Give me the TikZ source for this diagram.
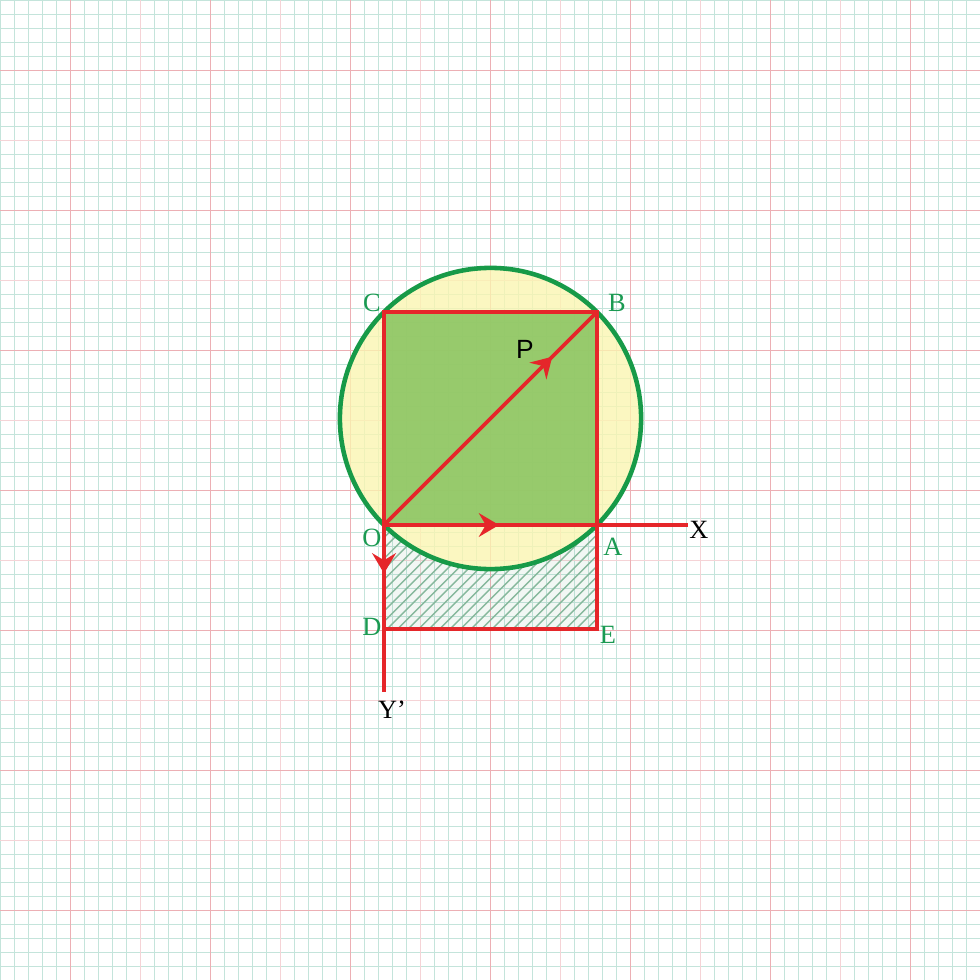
\documentclass[tikz,border=0pt]{standalone}
\usepackage{fontspec}
\setmainfont{Liberation Serif}
\newfontfamily\psans{Liberation Sans}
\usetikzlibrary{arrows.meta,decorations.markings}
\definecolor{gminor}{HTML}{C4E4DB}
\definecolor{gmid}{HTML}{F5D3D6}
\definecolor{gmajor}{HTML}{ECAFB4}
\definecolor{myred}{HTML}{E5262A}
\definecolor{mygreen}{HTML}{179A48}
\definecolor{lbl}{HTML}{1A9A52}
\definecolor{yel}{HTML}{FBF5B0}
\definecolor{sq}{HTML}{86C35E}
\definecolor{hatchc}{HTML}{86B89C}
\begin{document}
\begin{tikzpicture}[x=0.02cm,y=-0.02cm,
  minorline/.style={gminor, line width=0.4pt},
  midline/.style={gmid, line width=0.45pt},
  majorline/.style={gmajor, line width=0.55pt},
  redline/.style={myred, line width=2.1pt},
  arrowmark/.style={postaction={decorate,decoration={markings,
      mark=at position #1 with {\arrow{Stealth[length=11.5pt,width=13.5pt,inset=4pt,color=myred]}}}}},
  lab/.style={text=lbl, font=\fontsize{15}{15}\selectfont, inner sep=0pt},
  blab/.style={text=black, font=\fontsize{15}{15}\selectfont, inner sep=0pt}]
\useasboundingbox (0,0) rectangle (980,980);
\fill[white] (0,0) rectangle (980,980);
% graph paper
\foreach \i in {0,14,...,980} {
  \draw[minorline] (\i,0) -- (\i,980);
  \draw[minorline] (0,\i) -- (980,\i);
}
\foreach \i in {140,280,...,840} {
  \draw[midline] (\i,0) -- (\i,980);
  \draw[midline] (0,\i) -- (980,\i);
}
\foreach \i in {70,210,...,910} {
  \draw[majorline] (\i,0) -- (\i,980);
  \draw[majorline] (0,\i) -- (980,\i);
}
% points
\coordinate (O) at (384,525);
\coordinate (A) at (597,525);
\coordinate (B) at (597,312);
\coordinate (C) at (384,312);
\coordinate (D) at (384,629);
\coordinate (E) at (597,629);
\coordinate (Xend) at (688,525);
\coordinate (Yend) at (384,692);
\coordinate (M) at (490.5,418.5);
% fills
\fill[yel, fill opacity=0.78] (M) circle[radius=150.6];
\fill[sq, fill opacity=0.85] (O) rectangle (B);
% hatched region
\begin{scope}
  \clip (O) rectangle (E);
  \begin{scope}[even odd rule]
    \clip (O) rectangle (E) (M) circle[radius=150.6];
    \fill[hatchc, opacity=0.1] (O) rectangle (E);
    \foreach \k in {250,260.5,...,615} {
      \draw[hatchc, line width=0.8pt] (\k,640) -- ++(130,-130);
    }
  \end{scope}
\end{scope}
% circle
\draw[mygreen, line width=2.6pt] (M) circle[radius=150.6];
% red lines
\draw[redline] (O) -- (C) -- (B) -- (A);
\draw[redline, arrowmark=0.54] (O) -- (A);
\draw[redline] (A) -- (Xend);
\draw[redline, arrowmark=0.79] (O) -- (B);
\draw[redline, arrowmark=0.29] (O) -- (Yend);
\draw[redline] (D) -- (E) -- (A);
% labels
\node[lab] (lC) at (372,303) {C};
\node[lab] (lB) at (617,303) {B};
\node[lab] (lO) at (372,538) {O};
\node[lab] (lA) at (613,547) {A};
\node[lab] (lD) at (372,627) {D};
\node[lab] (lE) at (608,635) {E};
\node[blab] (lX) at (699,530) {X};
\node[blab] (lY) at (392,710) {Y’};
\node[text=black, font=\psans\fontsize{15}{15}\selectfont, inner sep=0pt] (lP) at (525,349) {P};
\end{tikzpicture}
\end{document}
